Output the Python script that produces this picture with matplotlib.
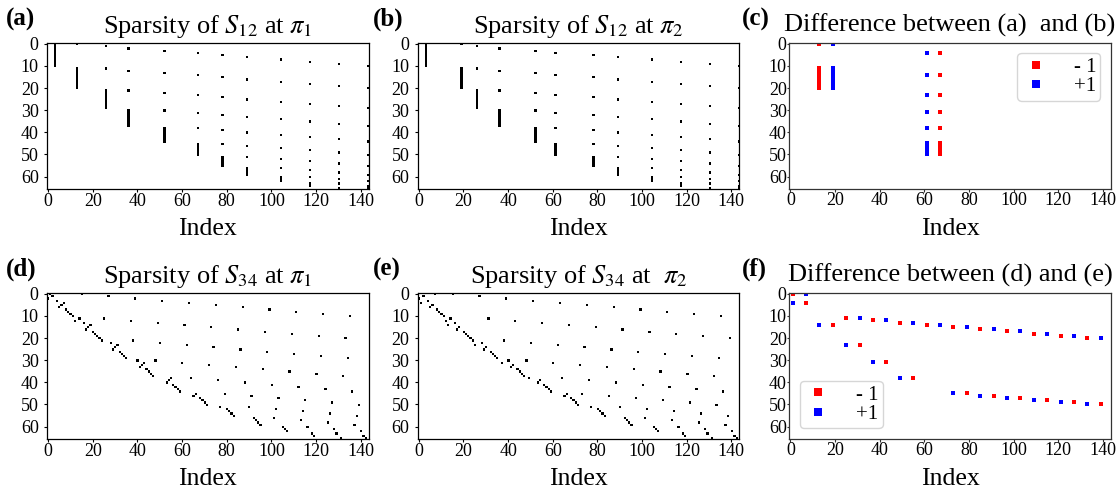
import numpy as np
import matplotlib
matplotlib.use("Agg")
import matplotlib.pyplot as plt
from matplotlib.colors import ListedColormap

plt.rcParams['font.family'] = ['Liberation Serif', 'DejaVu Serif']
plt.rcParams['mathtext.fontset'] = 'stix'

# ---- data ----
n_sites = 12                                   # 66 pair rows x 144 columns
pi_1 = [3, 1, 2, 0, 4, 7, 6, 5, 8, 9, 10, 11]  # permutation pi_1
pi_2 = [3, 7, 2, 0, 4, 1, 6, 5, 8, 9, 10, 11]  # permutation pi_2 (1 <-> 5 swapped)

x_ticks = [0, 20, 40, 60, 80, 100, 120, 140]
y_ticks = [0, 10, 20, 30, 40, 50, 60]

titles = [r"Sparsity of $S_{12}$ at $\pi_1$",
          r"Sparsity of $S_{12}$ at $\pi_2$",
          "Difference between (a)  and (b)",
          r"Sparsity of $S_{34}$ at $\pi_1$",
          r"Sparsity of $S_{34}$ at  $\pi_2$",
          "Difference between (d) and (e)"]
panel_labels = ["(a)", "(b)", "(c)", "(d)", "(e)", "(f)"]
legend_labels = ["- 1", "+1"]
x_label = "Index"


def pair_list(n):
    return [(i, j) for i in range(n) for j in range(i + 1, n)]


def s12_matrix(pi):
    pairs = pair_list(n_sites)
    m = np.zeros((len(pairs), n_sites * n_sites))
    for r, (i, j) in enumerate(pairs):
        m[r, n_sites * i + pi[i]] = 1
        m[r, n_sites * j + pi[j]] = 1
    return m


def s34_matrix(pi):
    pairs = pair_list(n_sites)
    m = np.zeros((len(pairs), n_sites * n_sites))
    for r, (i, j) in enumerate(pairs):
        m[r, n_sites * i + pi[j]] = 1
        m[r, n_sites * j + pi[i]] = 1
    return m


A = s12_matrix(pi_1)
B = s12_matrix(pi_2)
C = B - A
D = s34_matrix(pi_1)
E = s34_matrix(pi_2)
F = E - D
nrows, ncols = A.shape

W, H = 1120, 497
fig = plt.figure(figsize=(W / 100, H / 100), dpi=100)

lefts = [47, 417.7, 789.3]
tops = [42.7, 292.7]
aw, ah = 321.5, 146
bw_cmap = ListedColormap(['white', 'black'])


def make_ax(col, row):
    l = lefts[col]
    t = tops[row]
    return fig.add_axes([l / W, 1 - (t + ah) / H, aw / W, ah / H])


def style(ax, diff):
    ax.set_xlim(-0.5, ncols - 0.5)
    ax.set_ylim(nrows - 0.5, -0.5)
    ax.set_xticks(x_ticks)
    ax.set_yticks(y_ticks)
    c = '0.2' if diff else 'k'
    for s in ax.spines.values():
        s.set_color(c)
        s.set_linewidth(0.9)
    if diff:
        ax.tick_params(axis='x', length=2.4, pad=0.3, labelsize=13, colors='k')
        ax.tick_params(axis='y', length=1.5, pad=0.4, labelsize=13, colors='k')
    else:
        ax.tick_params(axis='x', length=2.4, pad=0.5, labelsize=13)
        ax.tick_params(axis='y', length=2.4, pad=3.6, labelsize=13)
    ax.tick_params(color=c)
    ax.set_xlabel(x_label, fontsize=18.5, labelpad=6.0)


def spy(ax, m):
    ax.imshow((m != 0).astype(float), cmap=bw_cmap, vmin=0, vmax=1,
              interpolation='nearest', aspect='auto')


def diffplot(ax, m, loc):
    r1, c1 = np.nonzero(m < 0)
    r2, c2 = np.nonzero(m > 0)
    ax.plot(c1, r1, 's', color='#ff0000', ms=2.2, mew=0, linestyle='none', label=legend_labels[0])
    ax.plot(c2, r2, 's', color='#0000ff', ms=2.2, mew=0, linestyle='none', label=legend_labels[1])
    ax.legend(loc=loc, fontsize=15, markerscale=5.2 / 2.2, handlelength=1.4,
              handletextpad=1.1, borderpad=0.2, labelspacing=0.0,
              borderaxespad=0.5, edgecolor='0.8')


mats = [A, B, C, D, E, F]
for k in range(6):
    row, col = divmod(k, 3)
    ax = make_ax(col, row)
    diff = (col == 2)
    if diff:
        diffplot(ax, mats[k], 'upper right' if row == 0 else 'lower left')
    else:
        spy(ax, mats[k])
    style(ax, diff)
    ax.set_title(titles[k], fontsize=19, pad=(8 if diff else 6.8))
    fig.text((lefts[col] - (41 if col == 0 else 45 if col == 1 else 47)) / W,
             1 - (tops[row] - 35) / H, panel_labels[k],
             fontsize=18, fontweight='bold', va='top', ha='left')

fig.savefig("out.png", dpi=100)
